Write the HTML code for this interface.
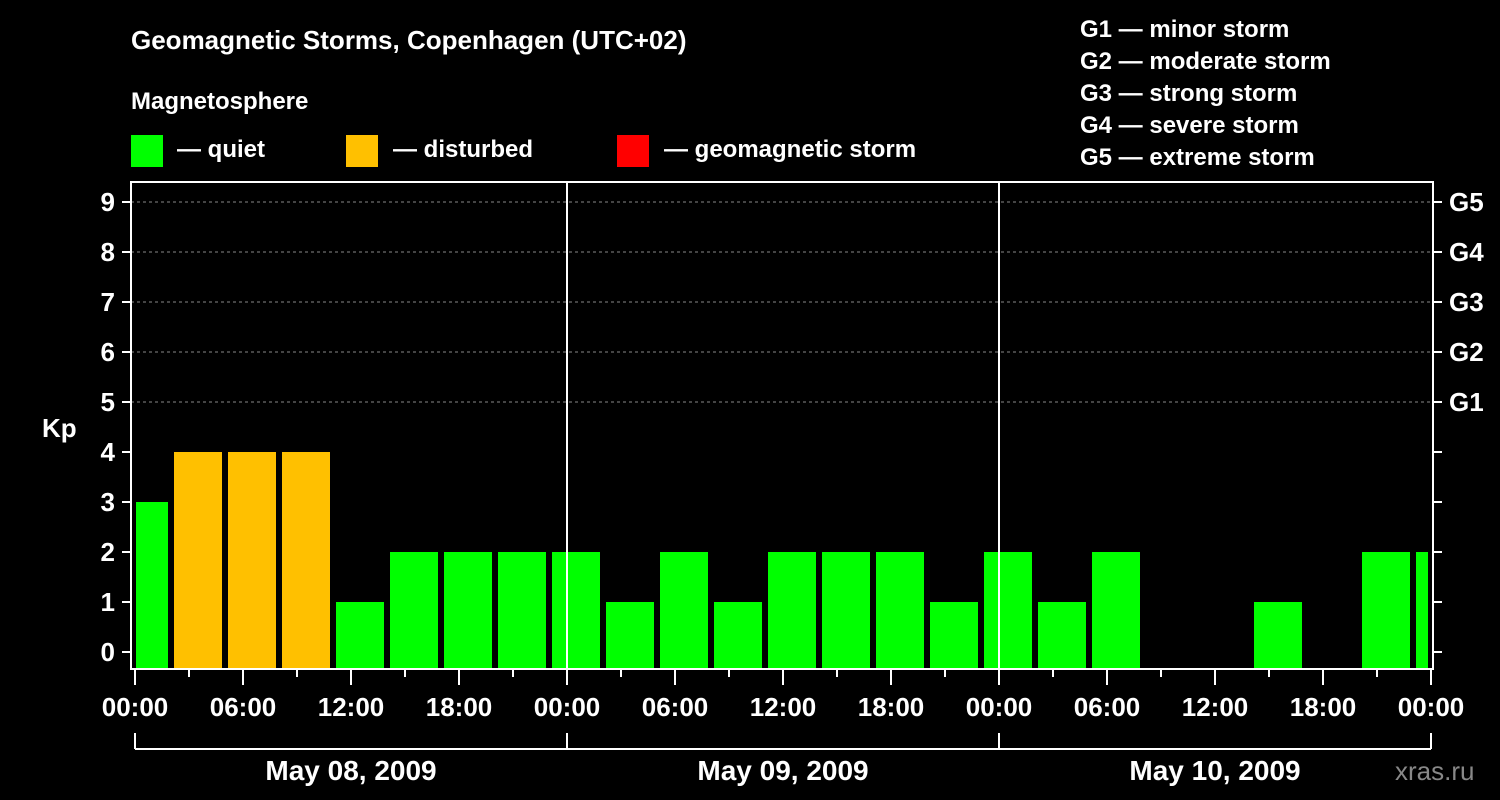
<!DOCTYPE html>
<html><head><meta charset="utf-8"><style>
body{margin:0;background:#000;}
svg{display:block;font-family:"Liberation Sans",Arial,sans-serif;font-weight:bold;}
</style></head><body>
<svg id="c" width="1500" height="800">
<rect width="1500" height="800" fill="#000"/>
<text x="131" y="49" fill="#fff" font-size="26">Geomagnetic Storms, Copenhagen (UTC+02)</text>
<text x="131" y="109" fill="#fff" font-size="24">Magnetosphere</text>
<g><rect x="131" y="135" width="32" height="32" fill="#00ff00"/><text x="177" y="157" fill="#fff" font-size="24">— quiet</text></g>
<g><rect x="346" y="135" width="32" height="32" fill="#ffc000"/><text x="393" y="157" fill="#fff" font-size="24">— disturbed</text></g>
<g><rect x="617" y="135" width="32" height="32" fill="#ff0000"/><text x="664" y="157" fill="#fff" font-size="24">— geomagnetic storm</text></g>
<g fill="#fff" font-size="24">
<text x="1080" y="37">G1 — minor storm</text>
<text x="1080" y="69">G2 — moderate storm</text>
<text x="1080" y="101">G3 — strong storm</text>
<text x="1080" y="133">G4 — severe storm</text>
<text x="1080" y="165">G5 — extreme storm</text>
</g>
<text x="42" y="437" fill="#fff" font-size="26">Kp</text>
<text x="1395" y="780" fill="#888" font-size="26" font-weight="normal">xras.ru</text>
<g id="plot"></g>
</svg>
<script>
const kpValues=[3,4,4,4,1,2,2,2,2,1,2,1,2,2,2,1,2,1,2,0,0,1,0,2,2];
const barStartHours=[-1,2,5,8,11,14,17,20,23,26,29,32,35,38,41,44,47,50,53,56,59,62,65,68,71];
const yTicks=[0,1,2,3,4,5,6,7,8,9];
const gLabels=["G1","G2","G3","G4","G5"];
const gLevels=[5,6,7,8,9];
const xLabels=["00:00","06:00","12:00","18:00","00:00","06:00","12:00","18:00","00:00","06:00","12:00","18:00","00:00"];
const dayLabels=["May 08, 2009","May 09, 2009","May 10, 2009"];
const NS="http://www.w3.org/2000/svg";
const p=document.getElementById('plot');
const X0=135,PXH=18,L=131,R=1433,T=182,B=669;
const xs=h=>X0+h*PXH, ys=v=>652-50*v;
function mk(t,a,parent){const e=document.createElementNS(NS,t);for(const k in a)e.setAttribute(k,a[k]);(parent||p).appendChild(e);return e;}
// grid
gLevels.forEach(v=>{const l=mk('line',{x1:L,x2:R,y1:ys(v),y2:ys(v),stroke:'#888','stroke-dasharray':'3,3','stroke-width':1});

});
// bars
kpValues.forEach((v,i)=>{if(v<=0)return;
let a=xs(barStartHours[i])+3,b=xs(barStartHours[i]+3)-3;
a=Math.max(a,L+5);b=Math.min(b,R-5);
const col=v>=5?'#ff0000':(v>=4?'#ffc000':'#00ff00');
const r=mk('rect',{x:a,y:ys(v),width:b-a,height:B-1-ys(v),fill:col});

});
// day lines
[1,2].forEach(d=>{const l=mk('line',{x1:xs(24*d),x2:xs(24*d),y1:T,y2:B,stroke:'#fff','stroke-width':2});

});
// frame
const f=mk('rect',{x:L,y:T,width:R-L,height:B-T,fill:'none',stroke:'#fff','stroke-width':2});


// y ticks
yTicks.forEach(v=>{mk('line',{x1:122,x2:L,y1:ys(v),y2:ys(v),stroke:'#fff','stroke-width':2});
mk('line',{x1:R,x2:1442,y1:ys(v),y2:ys(v),stroke:'#fff','stroke-width':2});
const t=mk('text',{x:115,y:ys(v)+9,fill:'#fff','font-size':26,'text-anchor':'end'});t.textContent=v;

});
gLabels.forEach((g,i)=>{const t=mk('text',{x:1449,y:ys(gLevels[i])+9,fill:'#fff','font-size':26});t.textContent=g;

});
// x ticks
for(let h=0;h<=72;h+=3){const major=h%6==0;mk('line',{x1:xs(h),x2:xs(h),y1:B,y2:major?685:677,stroke:'#fff','stroke-width':2});}
xLabels.forEach((s,i)=>{const t=mk('text',{x:xs(i*6),y:716,fill:'#fff','font-size':26,'text-anchor':'middle'});t.textContent=s;

});
// day brackets
mk('line',{x1:xs(0),x2:xs(72),y1:749,y2:749,stroke:'#fff','stroke-width':2});
for(let d=0;d<=3;d++)mk('line',{x1:xs(24*d),x2:xs(24*d),y1:733,y2:749,stroke:'#fff','stroke-width':2});
dayLabels.forEach((s,i)=>{const t=mk('text',{x:xs(24*i+12),y:780,fill:'#fff','font-size':28,'text-anchor':'middle'});t.textContent=s;

});
</script>
</body></html>
